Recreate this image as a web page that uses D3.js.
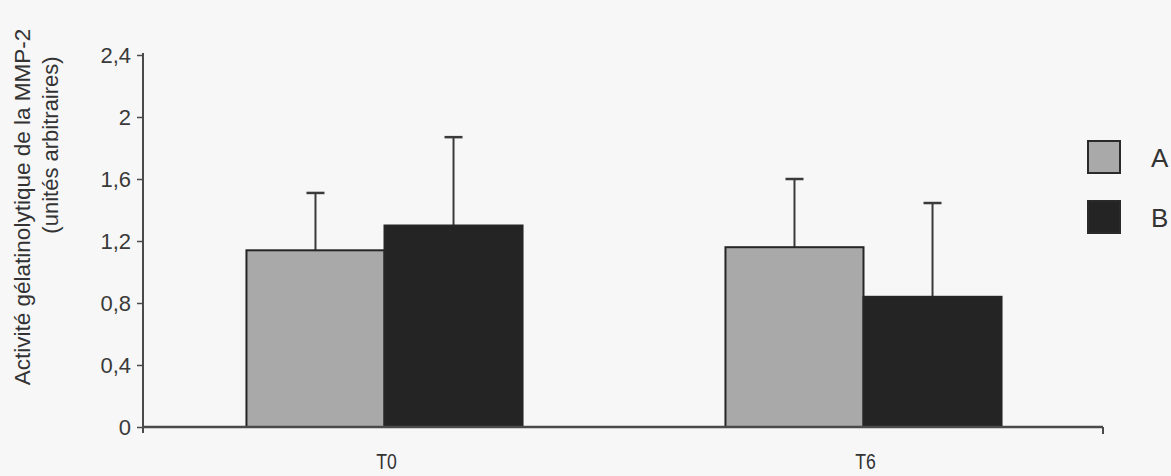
<!DOCTYPE html>
<html>
<head>
<meta charset="utf-8">
<script src="https://cdn.jsdelivr.net/npm/d3@7"></script>
<style>
  html, body { margin: 0; padding: 0; background: #f7f7f7; }
  svg { display: block; }
  text { font-family: "Liberation Sans", Arial, sans-serif; fill: #333; }
</style>
</head>
<body>
<svg id="chart" width="1171" height="476"></svg>
<script>
const categories = ["T0", "T6"];
const series = ["A", "B"];
const valuesA = [1.14, 1.16];
const valuesB = [1.30, 0.84];
const errTopA = [1.51, 1.60];
const errTopB = [1.87, 1.445];
const yTicks = [0, 0.4, 0.8, 1.2, 1.6, 2, 2.4];
const yTickLabels = ["0", "0,4", "0,8", "1,2", "1,6", "2", "2,4"];
const yTitle1 = "Activité gélatinolytique de la MMP-2";
const yTitle2 = "(unités arbitraires)";

const colors = { A: "#a9a9a9", B: "#242424" };
const axisColor = "#4a4a4a";

const svg = d3.select("#chart");

const x0 = d3.scaleBand().domain(categories).range([145, 1103]).padding(0);
const x1 = d3.scaleBand().domain(series).range([0, x0.bandwidth()]).paddingInner(0).paddingOuter(0.735);
const y = d3.scaleLinear().domain([0, 2.4]).range([427, 55]);

const data = [];
categories.forEach((c, i) => {
  data.push({ cat: c, s: "A", v: valuesA[i], e: errTopA[i] });
  data.push({ cat: c, s: "B", v: valuesB[i], e: errTopB[i] });
});

// error bars (behind bars)
const eg = svg.append("g");
data.forEach(d => {
  const cx = x0(d.cat) + x1(d.s) + x1.bandwidth() / 2;
  eg.append("line").attr("x1", cx).attr("x2", cx).attr("y1", y(d.v)).attr("y2", y(d.e))
    .attr("stroke", "#3a3a3a").attr("stroke-width", 2);
  eg.append("line").attr("x1", cx - 9).attr("x2", cx + 9).attr("y1", y(d.e)).attr("y2", y(d.e))
    .attr("stroke", "#3a3a3a").attr("stroke-width", 2.5);
});

// bars
svg.append("g").selectAll("rect").data(data).join("rect")
  .attr("x", d => x0(d.cat) + x1(d.s))
  .attr("y", d => y(d.v))
  .attr("width", x1.bandwidth())
  .attr("height", d => y(0) - y(d.v))
  .attr("fill", d => colors[d.s])
  .attr("stroke", "#262626")
  .attr("stroke-width", 2);

// y axis
const yAxis = d3.axisLeft(y).tickValues(yTicks)
  .tickFormat((d, i) => yTickLabels[i]).tickSize(6).tickSizeOuter(0).tickPadding(6);
const gy = svg.append("g").attr("transform", "translate(143,0)").call(yAxis);
gy.attr("font-size", null).attr("font-family", null);
gy.select(".domain").remove();
gy.selectAll(".tick line").attr("stroke", axisColor).attr("stroke-width", 1.5);
gy.selectAll(".tick text")
  .style("font-size", "22px").style("fill", "#3a3a3a")
  .style("font-family", "'Liberation Sans', Arial, sans-serif");
gy.append("line").attr("x1", 0).attr("x2", 0).attr("y1", y(2.4) - 2).attr("y2", y(0) + 6)
  .attr("stroke", axisColor).attr("stroke-width", 2);

// x axis
const gx = svg.append("g");
gx.append("line").attr("x1", 143).attr("x2", 1103).attr("y1", y(0)).attr("y2", y(0))
  .attr("stroke", axisColor).attr("stroke-width", 2.5);
gx.append("line").attr("x1", 1103).attr("x2", 1103).attr("y1", y(0)).attr("y2", y(0) + 7)
  .attr("stroke", axisColor).attr("stroke-width", 2);
gx.selectAll("text.cat").data(categories).join("text")
  .attr("class", "cat")
  .attr("transform", d => `translate(${x0(d) + x0.bandwidth() / 2 + 2},469) scale(0.8,1)`)
  .attr("text-anchor", "middle")
  .style("font-size", "22px")
  .text(d => d);

// y title
svg.append("text")
  .attr("transform", "translate(30,207) rotate(-90)")
  .attr("text-anchor", "middle").style("font-size", "22.5px")
  .text(yTitle1);
svg.append("text")
  .attr("transform", "translate(58,145) rotate(-90)")
  .attr("text-anchor", "middle").style("font-size", "22px")
  .text(yTitle2);

// legend
const legend = svg.append("g");
series.forEach((s, i) => {
  const yy = 141 + i * 60;
  legend.append("rect").attr("x", 1088).attr("y", yy).attr("width", 32).attr("height", 32)
    .attr("fill", colors[s]).attr("stroke", "#2a2a2a").attr("stroke-width", 2);
  legend.append("text").attr("x", 1151).attr("y", yy + 26).style("font-size", "26px")
    .text(s);
});
</script>
</body>
</html>
